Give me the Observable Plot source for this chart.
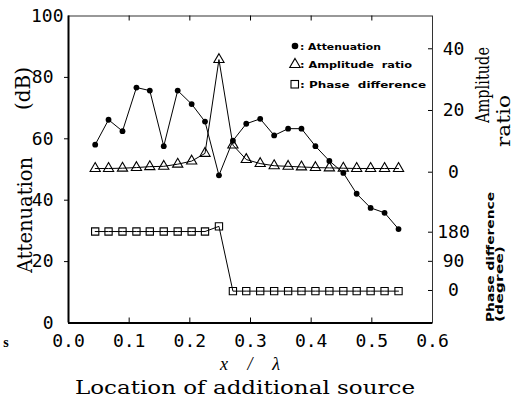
<!DOCTYPE html>
<html>
<head>
<meta charset="utf-8">
<script src="https://cdn.jsdelivr.net/npm/d3@7"></script>
<script src="https://cdn.jsdelivr.net/npm/@observablehq/plot@0.6"></script>
<style>
  html, body { margin: 0; padding: 0; background: #fff; }
</style>
</head>
<body>
<div id="chart"></div>
<script>
// ---- data ----
const location_ = [0.044, 0.066, 0.089, 0.112, 0.134, 0.157, 0.180, 0.203, 0.225, 0.248, 0.271, 0.293,
                   0.316, 0.339, 0.362, 0.384, 0.407, 0.430, 0.453, 0.475, 0.498, 0.521, 0.544];
const attenuation = [58.1, 66.2, 62.5, 76.7, 75.7, 57.6, 75.7, 71.3, 65.6, 48.1, 59.4, 64.9,
                     66.5, 61.1, 63.3, 63.3, 57.6, 52.8, 48.9, 42.1, 37.5, 35.9, 30.6];
const amplitudeRatio = [1.2, 1.2, 1.3, 1.5, 1.8, 1.9, 2.6, 3.6, 6.1, 36.5, 8.8, 4.1,
                        2.8, 2.1, 1.9, 1.7, 1.5, 1.4, 1.3, 1.2, 1.2, 1.2, 1.2];
const phaseDifference = [182, 182, 182, 182, 182, 182, 182, 182, 182, 198, -2, -2,
                         -2, -2, -2, -2, -2, -2, -2, -2, -2, -2, -2];

const xTicks = [0, 0.1, 0.2, 0.3, 0.4, 0.5, 0.6];
const attTicks = [0, 20, 40, 60, 80, 100];
const ampTicks = [0, 20, 40];
const phaseTicks = [0, 90, 180];

// secondary axes expressed in attenuation units (shared y scale)
const ampToAtt = a => 49.12 + 1.005 * a;
const phaseToAtt = p => 10.59 + 0.1055 * p;

const rows = location_.map((x, i) => ({
  x, att: attenuation[i], amp: ampToAtt(amplitudeRatio[i]), phase: phaseToAtt(phaseDifference[i])
}));

const W = 521, H = 399;
const mL = 68, mR = 89, mT = 15.5, mB = 76.5;
const frameW = W - mL - mR, frameH = H - mT - mB;
const tickFont = "DejaVu Sans Mono";

const svg = Plot.plot({
  width: W, height: H,
  marginLeft: mL, marginRight: mR, marginTop: mT, marginBottom: mB,
  style: { background: "#fff", color: "#000", overflow: "visible" },
  x: { domain: [0, 0.6], axis: null },
  y: { domain: [0, 100], axis: null },
  marks: [
    Plot.frame({ stroke: "#333", strokeWidth: 1 }),
    Plot.ruleX([0], { stroke: "#000", strokeWidth: 2 }),
    Plot.ruleY([0], { stroke: "#000", strokeWidth: 2 }),
    // ticks
    Plot.tickX(xTicks.filter(d => d > 0 && d < 0.6), { x: d => d, insetTop: frameH - 5, stroke: "#000" }),
    Plot.tickX(xTicks.filter(d => d > 0 && d < 0.6), { x: d => d, insetBottom: frameH - 5, stroke: "#000" }),
    Plot.tickY(attTicks.filter(d => d > 0 && d < 100), { y: d => d, insetRight: frameW - 4, dx: -4, stroke: "#000" }),
    Plot.tickY(ampTicks.map(ampToAtt), { y: d => d, insetLeft: frameW - 4, stroke: "#000" }),
    Plot.tickY(phaseTicks.map(phaseToAtt), { y: d => d, insetLeft: frameW - 4, stroke: "#000" }),
    // tick labels
    Plot.text(attTicks.filter(d => d < 100), { y: d => d, text: d => String(d), frameAnchor: "left", textAnchor: "end", dx: -15, fontSize: 18, fontFamily: tickFont }),
    Plot.text(attTicks.filter(d => d === 100), { y: d => d, text: d => String(d), frameAnchor: "left", textAnchor: "end", dx: -5, fontSize: 18, fontFamily: tickFont }),
    Plot.text(ampTicks, { y: d => ampToAtt(d), text: d => String(d), frameAnchor: "right", textAnchor: "middle", dx: 21, fontSize: 18, fontFamily: tickFont }),
    Plot.text(phaseTicks, { y: d => phaseToAtt(d), text: d => String(d), frameAnchor: "right", textAnchor: "middle", dx: 21, fontSize: 18, fontFamily: tickFont }),
    Plot.text(xTicks, { x: d => d, text: d => d3.format(".1f")(d), frameAnchor: "bottom", lineAnchor: "middle", dy: 18, fontSize: 18, fontFamily: tickFont }),
    // series
    Plot.line(rows, { x: "x", y: "att", stroke: "#000", strokeWidth: 1 }),
    Plot.line(rows, { x: "x", y: "amp", stroke: "#000", strokeWidth: 1 }),
    Plot.line(rows, { x: "x", y: "phase", stroke: "#000", strokeWidth: 1 }),
    Plot.dot(rows, { x: "x", y: "att", r: 2.9, fill: "#000", stroke: "none" }),
    Plot.dot(rows, { x: "x", y: "amp", symbol: "triangle", r: 3.8, fill: "none", stroke: "#000", strokeWidth: 1.1 }),
    Plot.dot(rows, { x: "x", y: "phase", symbol: "square", r: 4.1, fill: "none", stroke: "#000", strokeWidth: 1.1 })
  ]
});
document.getElementById("chart").appendChild(svg);

// ---- titles and legend ----
const s = d3.select(svg);
function label(txt, x, y, o = {}) {
  const t = s.append("text")
    .attr("x", 0).attr("y", 0)
    .attr("transform", `translate(${x},${y})${o.rotate ? ` rotate(${o.rotate})` : ""}`)
    .attr("text-anchor", o.anchor || "middle")
    .attr("font-family", o.family || "DejaVu Serif")
    .attr("font-size", o.size || 20)
    .attr("font-weight", o.weight || "normal")
    .attr("font-style", o.style || "normal")
    .attr("fill", "#000")
    .text(txt);
  if (o.len) t.attr("textLength", o.len).attr("lengthAdjust", o.adjust || "spacingAndGlyphs");
  return t;
}
// left title
label("Attenuation", 31.5, 215, { rotate: -90, size: 21, len: 116 });
label("(dB)", 30, 88.5, { rotate: -90, size: 21, len: 43 });
// right titles
label("Amplitude", 489, 85, { rotate: -90, size: 19, len: 76 });
label("ratio", 510, 121, { rotate: -90, size: 19, len: 52 });
label("Phase difference", 494, 257, { rotate: -90, size: 10, weight: "bold", family: "DejaVu Sans", len: 130 });
label("(degree)", 503, 284, { rotate: -90, size: 10, weight: "bold", family: "DejaVu Sans", len: 76 });
// bottom titles
label("x / λ", 250, 370, { size: 18, family: "Liberation Serif", style: "italic", len: 60, adjust: "spacing" });
label("Location of additional source", 245, 393.5, { size: 19, len: 340 });
// stray glyph at far left
label("s", 6, 347, { size: 14, weight: "bold", family: "Liberation Serif" });

// legend
const lg = s.append("g");
lg.append("circle").attr("cx", 295).attr("cy", 46).attr("r", 3.3).attr("fill", "#000");
lg.append("path").attr("d", d3.symbol(d3.symbolTriangle, 48)()).attr("transform", "translate(295,64.5)")
  .attr("fill", "none").attr("stroke", "#000").attr("stroke-width", 1.1);
lg.append("rect").attr("x", 291).attr("y", 80.5).attr("width", 7.5).attr("height", 7.5)
  .attr("fill", "none").attr("stroke", "#000").attr("stroke-width", 1.1);
const legendLabels = [[": Attenuation", 49.5, 81], [": Amplitude  ratio", 67.5, 112], [": Phase  difference", 87.5, 126]];
for (const [t, y, len] of legendLabels) {
  label(t, 300, y, { anchor: "start", size: 9, weight: "bold", family: "DejaVu Sans", len });
}
</script>
</body>
</html>
